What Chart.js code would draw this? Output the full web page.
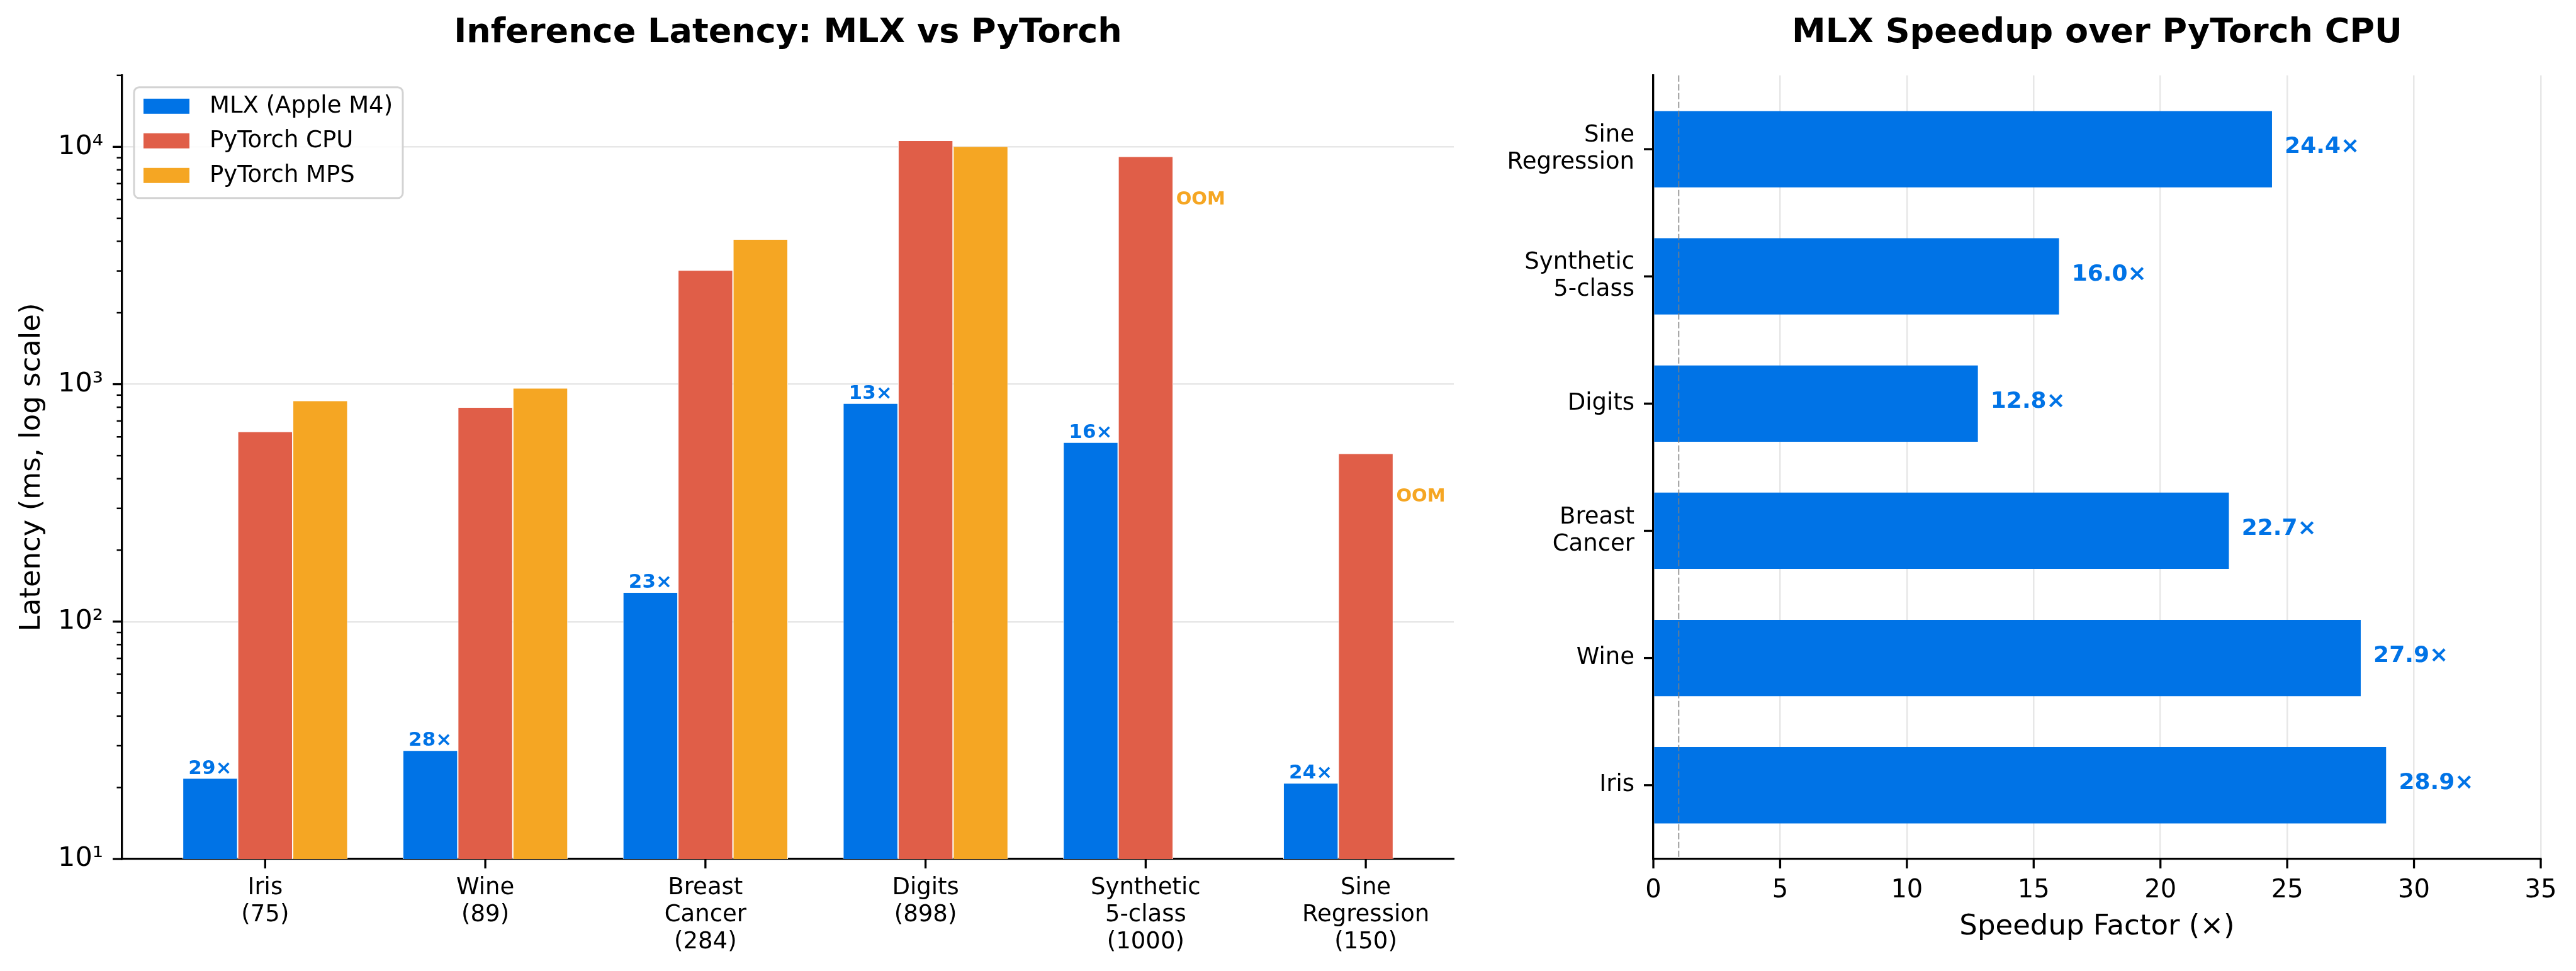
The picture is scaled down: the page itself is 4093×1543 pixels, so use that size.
<!DOCTYPE html>
<html><head><meta charset="utf-8">
<script src="https://cdn.jsdelivr.net/npm/chart.js@4.4.1/dist/chart.umd.min.js"></script>
<style>
html,body{margin:0;padding:0;background:#fff;}
body{width:4093px;height:1543px;position:relative;overflow:hidden;}
canvas{position:absolute;top:0;}
#c1{left:0;}
#c2{left:2350px;}
</style></head><body>
<canvas id="c1" width="2350" height="1543"></canvas>
<canvas id="c2" width="1743" height="1543"></canvas>
<script>
// ---------------- DATA ----------------
const datasetNames = ['Iris', 'Wine', 'Breast Cancer', 'Digits', 'Synthetic 5-class', 'Sine Regression'];
const nameLines = [['Iris'], ['Wine'], ['Breast', 'Cancer'], ['Digits'], ['Synthetic', '5-class'], ['Sine', 'Regression']];
const sampleCounts = [75, 89, 284, 898, 1000, 150];
const seriesNames = ['MLX (Apple M4)', 'PyTorch CPU', 'PyTorch MPS'];
const mlxLatency = [21.9, 28.7, 133, 832, 570, 20.9];
const cpuLatency = [632, 800, 3025, 10650, 9120, 511];
const mpsLatency = [853, 965, 4085, 10050, null, null];   // null = OOM
const speedup = [28.9, 27.9, 22.7, 12.8, 16.0, 24.4];
const latencyTicks = [10, 20, 30, 40, 50, 60, 70, 80, 90,
  100, 200, 300, 400, 500, 600, 700, 800, 900,
  1000, 2000, 3000, 4000, 5000, 6000, 7000, 8000, 9000,
  10000, 20000];
const speedupTicks = [0, 5, 10, 15, 20, 25, 30, 35];
const baselineSpeedup = 1;

// ---------------- STYLE ----------------
const BLUE = '#0073E6', RED = '#E05E48', ORANGE = '#F5A623';
const GRID = 'rgba(176,176,176,0.3)';
const FONT = "'DejaVu Sans'";
Chart.defaults.font.family = FONT;
Chart.defaults.color = '#000';
Chart.defaults.animation = false;

const isMajor = v => Math.abs(Math.log10(v) - Math.round(Math.log10(v))) < 1e-9;
const SUP = {'1': '¹', '2': '²', '3': '³', '4': '⁴', '5': '⁵'};

function drawTicks(ctx, scale, majorFn) {
  ctx.save();
  ctx.strokeStyle = '#000';
  scale.ticks.forEach(t => {
    const major = majorFn ? majorFn(t.value) : true;
    const len = major ? 15 : 8.5;
    ctx.lineWidth = major ? 3.3 : 2.5;
    const p = scale.getPixelForValue(t.value);
    ctx.beginPath();
    if (scale.isHorizontal()) { ctx.moveTo(p, scale.top); ctx.lineTo(p, scale.top + len); }
    else { ctx.moveTo(scale.right, p); ctx.lineTo(scale.right - len, p); }
    ctx.stroke();
  });
  ctx.restore();
}

// ---------------- LEFT CHART ----------------
const leftPlugin = {
  id: 'leftExtras',
  afterDatasetsDraw(chart) {
    const ctx = chart.ctx;
    const y = chart.scales.y;
    const m0 = chart.getDatasetMeta(0), m1 = chart.getDatasetMeta(1);
    ctx.save();
    ctx.font = 'bold 31px ' + FONT;
    ctx.fillStyle = BLUE;
    ctx.textAlign = 'center';
    ctx.textBaseline = 'alphabetic';
    m0.data.forEach((el, i) => ctx.fillText(Math.round(speedup[i]) + '×', el.x, el.y - 7));
    ctx.font = 'bold 29px ' + FONT;
    ctx.fillStyle = ORANGE;
    ctx.textBaseline = 'middle';
    mpsLatency.forEach((v, i) => {
      if (v === null) {
        const el = m1.data[i];
        ctx.fillText('OOM', el.x + el.width, y.getPixelForValue(cpuLatency[i] * 0.655));
      }
    });
    ctx.restore();
  },
  afterDraw(chart) {
    const ctx = chart.ctx;
    drawTicks(ctx, chart.scales.x);
    drawTicks(ctx, chart.scales.y, isMajor);
    // legend inside plot area
    const a = chart.chartArea;
    const bx = a.left + 19, by = a.top + 19, bw = 427, bh = 176;
    ctx.save();
    ctx.beginPath();
    ctx.roundRect(bx, by, bw, bh, 8);
    ctx.fillStyle = 'rgba(255,255,255,0.85)';
    ctx.fill();
    ctx.lineWidth = 3;
    ctx.strokeStyle = '#d3d3d3';
    ctx.stroke();
    ctx.font = '37px ' + FONT;
    ctx.textAlign = 'left';
    ctx.textBaseline = 'middle';
    chart.data.datasets.forEach((ds, i) => {
      const cy = by + 30 + i * 55;
      ctx.fillStyle = ds.backgroundColor;
      ctx.fillRect(bx + 15, cy - 12, 73, 24);
      ctx.fillStyle = '#000';
      ctx.fillText(ds.label, bx + 120, cy + 1);
    });
    ctx.restore();
  }
};

new Chart(document.getElementById('c1'), {
  type: 'bar',
  data: {
    datasets: [
      {label: seriesNames[0], data: mlxLatency.map((v, i) => ({x: i, y: v})), backgroundColor: BLUE},
      {label: seriesNames[1], data: cpuLatency.map((v, i) => ({x: i, y: v})), backgroundColor: RED},
      {label: seriesNames[2], data: mpsLatency.map((v, i) => ({x: i, y: v})), backgroundColor: ORANGE}
    ]
  },
  options: {
    responsive: false, devicePixelRatio: 1, animation: false, events: [],
    layout: {padding: {left: 0, right: 40, top: 0, bottom: 0}},
    datasets: {bar: {categoryPercentage: 0.75, barPercentage: 1.0, borderColor: '#fff', borderWidth: 1}},
    scales: {
      x: {
        type: 'linear', min: -0.65, max: 5.4, bounds: 'data', offset: false, z: 1,
        afterBuildTicks: s => { s.ticks = datasetNames.map((_, i) => ({value: i})); },
        afterFit: s => { s.height = 178; },
        grid: {display: false, drawTicks: false, offset: false},
        border: {display: true, color: '#000', width: 3.3},
        ticks: {padding: 25, autoSkip: false, maxRotation: 0, font: {size: 37, lineHeight: 1.16},
          callback: v => [...nameLines[v], '(' + sampleCounts[v] + ')']}
      },
      y: {
        type: 'logarithmic', min: 10, max: 20000, bounds: 'data', z: 1,
        afterBuildTicks: s => { s.ticks = latencyTicks.map(v => ({value: v, major: isMajor(v)})); },
        afterFit: s => { s.width = 194; },
        grid: {color: c => (c.tick && isMajor(c.tick.value)) ? GRID : 'rgba(0,0,0,0)', lineWidth: 2.5, drawTicks: false},
        border: {display: true, color: '#000', width: 3.3},
        ticks: {padding: 30, autoSkip: false, font: {size: 43},
          callback: v => isMajor(v) ? '10' + SUP[String(Math.round(Math.log10(v)))] : ''},
        title: {display: true, text: 'Latency (ms, log scale)', font: {size: 45}, padding: {top: 24, bottom: 0}}
      }
    },
    plugins: {
      legend: {display: false}, tooltip: {enabled: false},
      title: {display: true, text: 'Inference Latency: MLX vs PyTorch', fullSize: false, color: '#000',
        font: {size: 54, weight: 'bold', lineHeight: 1.2}, padding: {top: 21, bottom: 34}}
    }
  },
  plugins: [leftPlugin]
});

// ---------------- RIGHT CHART ----------------
const rightPlugin = {
  id: 'rightExtras',
  afterDatasetsDraw(chart) {
    const ctx = chart.ctx;
    const x = chart.scales.x;
    const a = chart.chartArea;
    ctx.save();
    // baseline 1x dashed reference
    ctx.strokeStyle = 'rgba(128,128,128,0.8)';
    ctx.lineWidth = 2;
    ctx.setLineDash([10, 4]);
    const px = x.getPixelForValue(baselineSpeedup);
    ctx.beginPath(); ctx.moveTo(px, a.top); ctx.lineTo(px, a.bottom); ctx.stroke();
    ctx.setLineDash([]);
    // value labels
    ctx.font = 'bold 36px ' + FONT;
    ctx.fillStyle = BLUE;
    ctx.textAlign = 'left';
    ctx.textBaseline = 'middle';
    chart.getDatasetMeta(0).data.forEach((el, i) => {
      ctx.fillText(speedup[i].toFixed(1) + '×', x.getPixelForValue(speedup[i] + 0.5), el.y - 3);
    });
    ctx.restore();
  },
  afterDraw(chart) {
    drawTicks(chart.ctx, chart.scales.x);
    drawTicks(chart.ctx, chart.scales.y);
  }
};

new Chart(document.getElementById('c2'), {
  type: 'bar',
  data: {
    datasets: [
      {label: 'Speedup', data: speedup.map((v, i) => ({x: v, y: i})), backgroundColor: BLUE,
        barPercentage: 0.6, categoryPercentage: 1.0, borderWidth: 0}
    ]
  },
  options: {
    indexAxis: 'y',
    responsive: false, devicePixelRatio: 1, animation: false, events: [],
    layout: {padding: {left: 0, right: 56, top: 0, bottom: 0}},
    scales: {
      x: {
        type: 'linear', min: 0, max: 35, bounds: 'data', offset: false, z: 1,
        afterBuildTicks: s => { s.ticks = speedupTicks.map(v => ({value: v})); },
        afterFit: s => { s.height = 178; },
        grid: {color: GRID, lineWidth: 2.5, drawTicks: false, offset: false},
        border: {display: true, color: '#000', width: 3.3},
        ticks: {padding: 27, autoSkip: false, maxRotation: 0, font: {size: 40}},
        title: {display: true, text: 'Speedup Factor (×)', font: {size: 45}, padding: {top: 0, bottom: 43}}
      },
      y: {
        type: 'linear', min: -0.58, max: 5.58, bounds: 'data', offset: false, z: 1,
        afterBuildTicks: s => { s.ticks = nameLines.map((_, i) => ({value: i})); },
        afterFit: s => { s.width = 277; },
        grid: {display: false, drawTicks: false, offset: false},
        border: {display: true, color: '#000', width: 3.3},
        ticks: {padding: 30, autoSkip: false, font: {size: 37, lineHeight: 1.16},
          callback: v => nameLines[v]}
      }
    },
    plugins: {
      legend: {display: false}, tooltip: {enabled: false},
      title: {display: true, text: 'MLX Speedup over PyTorch CPU', fullSize: false, color: '#000',
        font: {size: 54, weight: 'bold', lineHeight: 1.2}, padding: {top: 21, bottom: 34}}
    }
  },
  plugins: [rightPlugin]
});
</script>
</body></html>
